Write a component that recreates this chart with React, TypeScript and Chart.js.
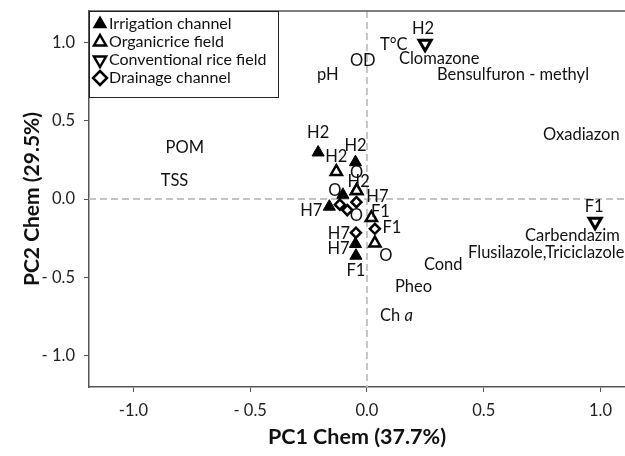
import React, { useEffect, useRef } from 'react';
import { Chart, registerables } from 'chart.js';

Chart.register(...registerables);

const FONT = 'Lato, "Open Sans", sans-serif';

// Series (sample scores)
const seriesNames = ['Irrigation channel', 'Organicrice field', 'Conventional rice field', 'Drainage channel'];

const irrigationX = [-0.209, -0.049, -0.103, -0.161, -0.049, -0.047];
const irrigationY = [0.297, 0.235, 0.027, -0.049, -0.287, -0.362];
const irrigationLabels = ['H2', 'H2', 'O', 'H7', 'H7', 'F1'];

const organicX = [-0.131, -0.044, -0.044, 0.019, 0.034];
const organicY = [0.174, 0.053, 0.053, -0.119, -0.282];
const organicLabels = ['H2', 'H2', 'O', 'F1', 'O'];

const conventionalX = [0.249, 0.977];
const conventionalY = [0.991, -0.145];
const conventionalLabels = ['H2', 'F1'];

const drainageX = [-0.116, -0.084, -0.045, -0.047, 0.034];
const drainageY = [-0.036, -0.071, -0.02, -0.215, -0.19];
const drainageLabels = ['', 'O', 'H7', 'H7', 'F1'];

// Variable loadings (text only)
const loadingNames = ['POM', 'TSS', 'pH', 'OD', 'T°C', 'Clomazone', 'Bensulfuron - methyl', 'Oxadiazon', 'Carbendazim', 'Flusilazole,Triciclazole', 'Cond', 'Pheo', 'Ch a'];
const loadingX = [-0.862, -0.883, -0.214, -0.073, 0.056, 0.137, 0.30, 0.754, 0.677, 0.433, 0.244, 0.12, 0.056];
const loadingY = [0.327, 0.117, 0.793, 0.883, 0.985, 0.895, 0.793, 0.41, -0.234, -0.343, -0.419, -0.56, -0.745];

const xTickValues = [-1, -0.5, 0, 0.5, 1];
const xTickLabels = ['-1.0', '- 0.5', '0.0', '0.5', '1.0'];
const yTickValues = [-1, -0.5, 0, 0.5, 1];
const yTickLabels = ['- 1.0', '- 0.5', '0.0', '0.5', '1.0'];

const xTitle = 'PC1 Chem (37.7%)';
const yTitle = 'PC2 Chem (29.5%)';

// label offsets in pixels (style only)
const irrigationOffsets = [[0, -20], [0, -17], [-8, -4], [-18, 4], [-17, 5], [0, 15]];
const organicOffsets = [[0, -15], [2, -9], [0, -18], [9, -6], [11, 12]];
const conventionalOffsets = [[-2, -15], [-1, -15]];
const drainageOffsets = [[0, 0], [9, 6], [21, -5], [-17, 1], [17, -1]];

const LABEL_SIZE = 16.5;

const toPoints = (xs: number[], ys: number[]) => xs.map((x, i) => ({ x, y: ys[i] }));

type Kind = 'filledUp' | 'openUp' | 'openDown' | 'diamond';
const kinds: Kind[] = ['filledUp', 'openUp', 'openDown', 'diamond'];

function drawMarker(ctx: CanvasRenderingContext2D, kind: Kind, x: number, y: number, r: number) {
  ctx.save();
  ctx.beginPath();
  if (kind === 'diamond') {
    ctx.moveTo(x, y - r);
    ctx.lineTo(x + r, y);
    ctx.lineTo(x, y + r);
    ctx.lineTo(x - r, y);
  } else {
    const s = kind === 'openDown' ? -1 : 1;
    ctx.moveTo(x, y - s * r);
    ctx.lineTo(x + r * 0.866, y + s * r * 0.5);
    ctx.lineTo(x - r * 0.866, y + s * r * 0.5);
  }
  ctx.closePath();
  if (kind === 'filledUp') {
    ctx.fillStyle = '#000';
    ctx.fill();
  } else {
    ctx.fillStyle = '#fff';
    ctx.fill();
    ctx.lineWidth = 2.5;
    ctx.strokeStyle = '#000';
    ctx.stroke();
  }
  ctx.restore();
}

export default function App() {
  const ref = useRef<HTMLCanvasElement | null>(null);

  useEffect(() => {
    if (!ref.current) return;
    const offsets = [irrigationOffsets, organicOffsets, conventionalOffsets, drainageOffsets];
    const labels = [irrigationLabels, organicLabels, conventionalLabels, drainageLabels];

    const bgPlugin = {
      id: 'bgLines',
      beforeDatasetsDraw(chart: any) {
        const { ctx, chartArea, scales } = chart;
        const x0 = scales.x.getPixelForValue(0);
        const y0 = scales.y.getPixelForValue(0);
        ctx.save();
        ctx.strokeStyle = '#c4c4c4';
        ctx.lineWidth = 2;
        ctx.setLineDash([7, 4]);
        ctx.beginPath();
        ctx.moveTo(x0, chartArea.top);
        ctx.lineTo(x0, chartArea.bottom);
        ctx.moveTo(chartArea.left, y0);
        ctx.lineTo(chartArea.right, y0);
        ctx.stroke();
        ctx.restore();
      },
    };

    const labelPlugin = {
      id: 'labels',
      afterDatasetsDraw(chart: any) {
        const { ctx, scales } = chart;
        ctx.save();
        ctx.fillStyle = '#111';
        ctx.textBaseline = 'middle';
        ctx.font = `${LABEL_SIZE}px ${FONT}`;
        ctx.textAlign = 'center';
        chart.data.datasets.forEach((ds: any, i: number) => {
          const meta = chart.getDatasetMeta(i);
          meta.data.forEach((pt: any, j: number) => {
            const t = labels[i][j];
            if (!t) return;
            const [dx, dy] = offsets[i][j];
            ctx.fillText(t, pt.x + dx, pt.y + dy);
          });
        });
        ctx.textAlign = 'left';
        loadingNames.forEach((name, i) => {
          const px = scales.x.getPixelForValue(loadingX[i]);
          const py = scales.y.getPixelForValue(loadingY[i]);
          if (name === 'Ch a') {
            ctx.font = `${LABEL_SIZE}px ${FONT}`;
            ctx.fillText('Ch ', px, py);
            const w = ctx.measureText('Ch ').width;
            ctx.font = `italic ${LABEL_SIZE}px ${FONT}`;
            ctx.fillText('a', px + w, py);
          } else {
            ctx.font = `${LABEL_SIZE}px ${FONT}`;
            ctx.fillText(name, px, py);
          }
        });
        ctx.restore();
      },
    };

    const framePlugin = {
      id: 'frame',
      afterDraw(chart: any) {
        const { ctx, chartArea } = chart;
        ctx.save();
        ctx.strokeStyle = '#555';
        ctx.lineWidth = 1.5;
        ctx.beginPath();
        ctx.moveTo(chartArea.left, chartArea.top);
        ctx.lineTo(chartArea.right, chartArea.top);
        ctx.stroke();
        const lx = chartArea.left;
        const ly = chartArea.top;
        const lw = 189;
        const lh = 86;
        ctx.fillStyle = '#fff';
        ctx.fillRect(lx, ly, lw, lh);
        ctx.strokeStyle = '#222';
        ctx.lineWidth = 1;
        ctx.strokeRect(lx + 0.5, ly + 0.5, lw, lh);
        ctx.font = `16px ${FONT}`;
        ctx.textAlign = 'left';
        ctx.textBaseline = 'middle';
        seriesNames.forEach((name, i) => {
          const cy = ly + 13 + i * 18;
          drawMarker(ctx, kinds[i], lx + 11, cy, i === 0 ? 8.5 : 7);
          ctx.fillStyle = '#111';
          ctx.fillText(name, lx + 20, cy);
        });
        ctx.restore();
      },
    };

    const chart = new Chart(ref.current, {
      type: 'scatter',
      data: {
        datasets: [
          {
            label: seriesNames[0],
            data: toPoints(irrigationX, irrigationY),
            pointStyle: 'triangle',
            pointRadius: 7,
            backgroundColor: '#000',
            borderColor: '#000',
            borderWidth: 1,
          },
          {
            label: seriesNames[1],
            data: toPoints(organicX, organicY),
            pointStyle: 'triangle',
            pointRadius: 6.5,
            backgroundColor: '#fff',
            borderColor: '#000',
            borderWidth: 2.5,
          },
          {
            label: seriesNames[2],
            data: toPoints(conventionalX, conventionalY),
            pointStyle: 'triangle',
            rotation: 180,
            pointRadius: 7,
            backgroundColor: '#fff',
            borderColor: '#000',
            borderWidth: 3,
          },
          {
            label: seriesNames[3],
            data: toPoints(drainageX, drainageY),
            pointStyle: 'rectRot',
            pointRadius: 5,
            backgroundColor: '#fff',
            borderColor: '#000',
            borderWidth: 2.5,
          },
        ] as any,
      },
      options: {
        animation: false,
        responsive: false,
        maintainAspectRatio: false,
        events: [],
        layout: { autoPadding: false, padding: { top: 11, left: 0, right: 0, bottom: 0 } },
        plugins: { legend: { display: false }, tooltip: { enabled: false } },
        scales: {
          x: {
            type: 'linear',
            min: -1.19,
            max: 1.105,
            afterBuildTicks: (s: any) => {
              s.ticks = xTickValues.map((v) => ({ value: v }));
            },
            afterFit: (s: any) => {
              s.height = 69;
              s.paddingLeft = 0;
              s.paddingRight = 0;
            },
            ticks: {
              callback: (_v: any, i: number) => xTickLabels[i],
              font: { family: FONT, size: 16.5 },
              color: '#222',
              padding: 9,
              maxRotation: 0,
            },
            grid: { drawOnChartArea: false, drawTicks: true, tickLength: 5, color: '#555', lineWidth: 1 },
            border: { display: true, color: '#555', width: 1.5 },
            title: {
              display: true,
              text: xTitle,
              font: { family: FONT, size: 21.5, weight: 'bold' },
              color: '#111',
              padding: { top: 0, bottom: 6 },
            },
          },
          y: {
            type: 'linear',
            min: -1.2,
            max: 1.2,
            afterBuildTicks: (s: any) => {
              s.ticks = yTickValues.map((v) => ({ value: v }));
            },
            afterFit: (s: any) => {
              s.width = 89;
              s.paddingTop = 0;
              s.paddingBottom = 0;
            },
            ticks: {
              callback: (_v: any, i: number) => yTickLabels[i],
              font: { family: FONT, size: 16.5 },
              color: '#222',
              padding: 9,
            },
            grid: { drawOnChartArea: false, drawTicks: true, tickLength: 5, color: '#555', lineWidth: 1 },
            border: { display: true, color: '#555', width: 1.5 },
            title: {
              display: true,
              text: yTitle,
              font: { family: FONT, size: 21, weight: 'bold' },
              color: '#111',
              padding: { top: 20, bottom: 0 },
            },
          },
        },
      } as any,
      plugins: [bgPlugin, labelPlugin, framePlugin],
    });
    return () => chart.destroy();
  }, []);

  return (
    <div style={{ position: 'fixed', left: 0, top: 0, width: 625, height: 456, background: '#fff' }}>
      <canvas ref={ref} width={625} height={456} style={{ display: 'block' }} />
    </div>
  );
}
